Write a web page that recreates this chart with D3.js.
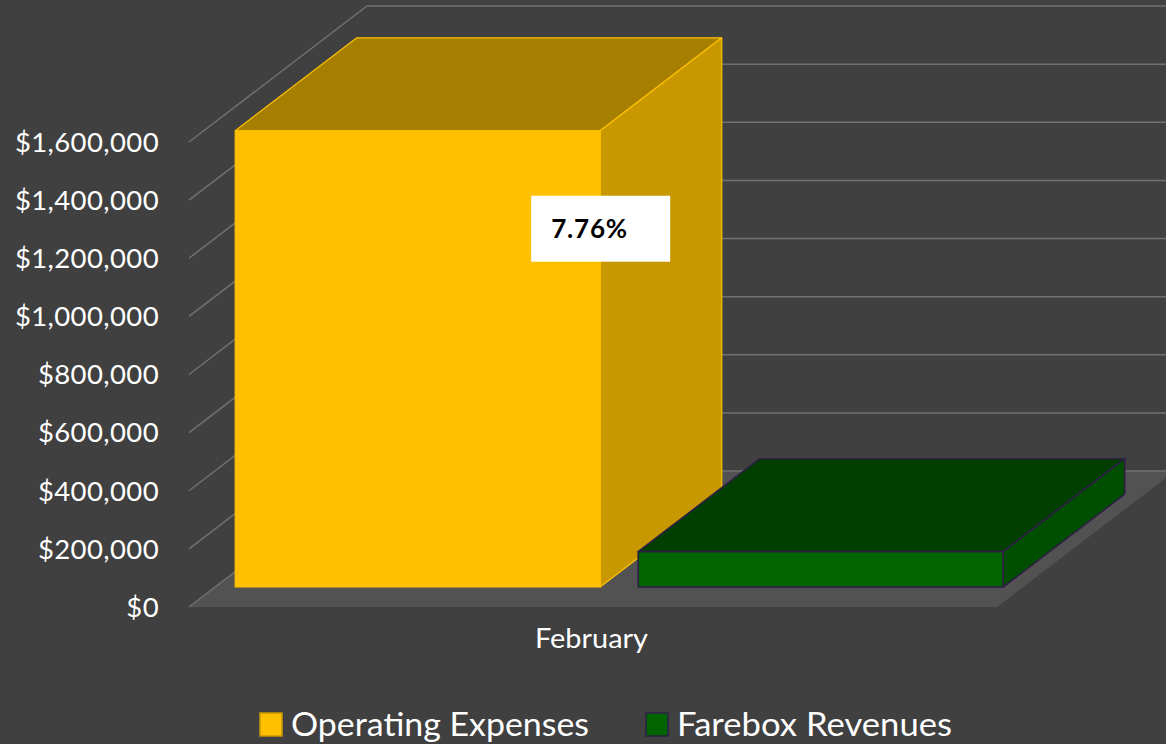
<!DOCTYPE html>
<html>
<head>
<meta charset="utf-8">
<script src="https://cdn.jsdelivr.net/npm/d3@7"></script>
<style>
  html, body { margin: 0; padding: 0; background: #404040; }
  svg { display: block; }
  text { font-family: Lato, "Open Sans", sans-serif; fill: #ffffff; }
</style>
</head>
<body>
<svg id="chart" width="1166" height="744"></svg>
<script>
// ---- data ----
const categories = ["February"];
const series = ["Operating Expenses", "Farebox Revenues"];
const values = [1570000, 121800];
const yTicks = [0, 200000, 400000, 600000, 800000, 1000000, 1200000, 1400000, 1600000];
const dataLabels = ["7.76%"];

// ---- styles ----
const frontColors = ["#FFC000", "#006400"];
const topColors   = ["#A67F00", "#003F00"];
const sideColors  = ["#C79800", "#004E00"];
const strokeColors = ["#FFC000", "#2E1F45"];

const W = 1166, H = 744;
const svg = d3.select("#chart");

// front plane geometry
const xLeft = 189, xRight = 997;
const DX = 178, DY = 136;            // depth projection offsets (full depth)
const d0 = 0.147, d1 = 0.83;        // bar depth range

const y = d3.scaleLinear().domain([0, 1600000]).range([607, 142]);
const x0 = d3.scaleBand().domain(categories).range([xLeft, xRight]);
const x1 = d3.scaleBand().domain(series).range([0, x0.bandwidth()])
  .paddingInner(0.0943).paddingOuter(0.0497);

const P = (x, v, d) => [x + DX * d, y(v) - DY * d];
const poly = pts => "M" + pts.map(p => p.join(",")).join("L") + "Z";

// floor
svg.append("path")
  .attr("d", poly([P(xLeft, 0, 0), P(xRight, 0, 0), P(xRight, 0, 1), P(xLeft, 0, 1)]))
  .attr("fill", "#535252");

// gridlines
const grid = svg.append("g").attr("stroke", "#707070").attr("stroke-width", 1.5).attr("fill", "none");
yTicks.forEach(t => {
  const a = P(xLeft, t, 0), b = P(xLeft, t, 1);
  grid.append("path").attr("d", `M${a[0]},${a[1]}L${b[0]},${b[1]}L${W},${b[1]}`);
});

// y tick labels
const fmt = d3.format("$,");
svg.append("g").selectAll("text").data(yTicks).join("text")
  .attr("x", 159).attr("y", d => y(d) + 9.8)
  .attr("text-anchor", "end")
  .attr("font-size", 27.5)
  .attr("letter-spacing", 0.4)
  .text(d => fmt(d));

// bars
const cat = categories[0];
series.forEach((s, i) => {
  const v = values[i];
  const xa = x0(cat) + x1(s), xb = xa + x1.bandwidth();
  const g = svg.append("g").attr("stroke", strokeColors[i]).attr("stroke-width", i === 0 ? 1.2 : 1.6)
    .attr("stroke-linejoin", "round");
  g.append("path").attr("fill", topColors[i])
    .attr("d", poly([P(xa, v, d0), P(xb, v, d0), P(xb, v, d1), P(xa, v, d1)]));
  g.append("path").attr("fill", sideColors[i])
    .attr("d", poly([P(xb, 0, d0), P(xb, 0, d1), P(xb, v, d1), P(xb, v, d0)]));
  g.append("path").attr("fill", frontColors[i])
    .attr("d", poly([P(xa, 0, d0), P(xb, 0, d0), P(xb, v, d0), P(xa, v, d0)]));
});

// data label on first series
{
  const s = series[0], v = values[0];
  const xb = x0(cat) + x1(s) + x1.bandwidth();
  const tr = P(xb, v, d0);
  const cx = tr[0] + 0.5, cy = tr[1] + 98;
  svg.append("rect").attr("x", cx - 69.5).attr("y", cy - 33).attr("width", 139).attr("height", 66)
    .attr("fill", "#ffffff");
  svg.append("text").attr("x", cx - 49.5).attr("y", cy + 9)
    .attr("font-size", 26).attr("font-weight", "bold").attr("letter-spacing", 0.8)
    .style("fill", "#000000")
    .text(dataLabels[0]);
}

// category label
svg.append("text")
  .attr("x", x0(cat) + x0.bandwidth() / 2 - 1.5).attr("y", 648)
  .attr("text-anchor", "middle").attr("font-size", 26)
  .attr("textLength", 113).attr("lengthAdjust", "spacingAndGlyphs")
  .text(cat);

// legend
const legendItems = [
  { name: series[0], sx: 260, tx: 291, tw: 298 },
  { name: series[1], sx: 646, tx: 677, tw: 275 }
];
legendItems.forEach((it, i) => {
  svg.append("rect").attr("x", it.sx).attr("y", 713).attr("width", 22).attr("height", 23)
    .attr("fill", frontColors[i]).attr("stroke", i === 0 ? "#C79800" : strokeColors[i]).attr("stroke-width", 1.5);
  svg.append("text").attr("x", it.tx).attr("y", 736).attr("font-size", 32)
    .attr("textLength", it.tw).attr("lengthAdjust", "spacingAndGlyphs")
    .text(it.name);
});
</script>
</body>
</html>
